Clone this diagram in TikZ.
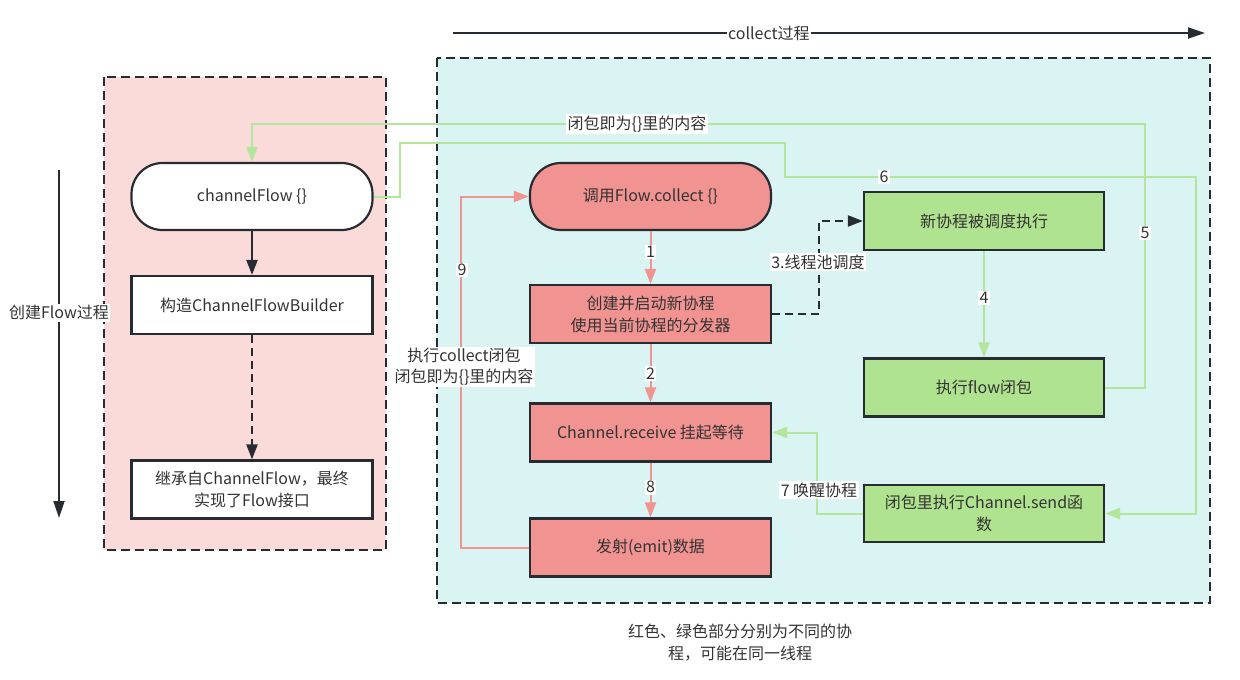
\documentclass[tikz,border=0pt]{standalone}
\usepackage{fontspec}
\setmainfont{Noto Sans CJK SC}
\usetikzlibrary{arrows.meta}
\definecolor{regpink}{HTML}{FADBDA}
\definecolor{regcyan}{HTML}{DAF4F4}
\definecolor{salmon}{HTML}{F19391}
\definecolor{leaf}{HTML}{B0E38F}
\definecolor{leafline}{HTML}{B3E59D}
\definecolor{darkc}{HTML}{262C32}
\definecolor{txt}{HTML}{333333}
\tikzset{
  region/.style={draw=darkc, line width=2pt, dash pattern=on 9pt off 5pt},
  box/.style={draw=darkc, line width=2.2pt, minimum width=241pt, inner sep=2pt, align=center, text=txt, font=\fontsize{16}{22}\selectfont},
  stadium/.style={box, rounded corners=31pt, minimum height=67pt},
  plain/.style={box, fill=white, minimum height=58pt},
  redbox/.style={box, fill=salmon, minimum height=58pt},
  greenbox/.style={box, fill=leaf, minimum height=58pt, minimum width=240pt},
  lbl/.style={fill=white, inner sep=1.5pt, text=txt, align=center, font=\fontsize{16}{21}\selectfont},
  pinkarrow/.style={draw=salmon, line width=2pt, -{Triangle[length=15pt,width=11pt]}},
  greenarrow/.style={draw=leafline, line width=2pt, -{Triangle[length=15pt,width=11pt]}},
  darkarrow/.style={draw=darkc, line width=2.2pt, -{Triangle[length=15pt,width=11pt]}},
  darkdashed/.style={darkarrow, dash pattern=on 8pt off 5pt},
}
\begin{document}
\begin{tikzpicture}[x=1pt,y=-1pt]
\useasboundingbox (0,0) rectangle (1240,680);
\fill[white] (0,0) rectangle (1240,680);
% regions
\path[region, fill=regpink] (104,77) rectangle (386,550);
\path[region, fill=regcyan] (437,58) rectangle (1210,603);
% top and side arrows
\coordinate (ts) at (453,33);
\coordinate (te) at (1205,33);
\draw[darkarrow, line width=1.8pt, -{Triangle[length=17pt,width=11pt]}] (ts) -- node[lbl, pos=0.42]{collect过程} (te);
\coordinate (ls) at (59,170);
\coordinate (le) at (59,518);
\draw[darkarrow, line width=1.8pt, -{Triangle[length=17pt,width=11pt]}] (ls) -- node[lbl, pos=0.41]{创建Flow过程} (le);
% left nodes
\node[stadium, fill=white] (chF) at (252,196.5) {channelFlow \{\}};
\node[plain] (build) at (252,305) {构造ChannelFlowBuilder};
\node[plain] (impl) at (252,489.5) {继承自ChannelFlow，最终\\实现了Flow接口};
% red nodes
\node[stadium, fill=salmon] (collect) at (650.5,196.5) {调用Flow.collect \{\}};
\node[redbox] (create) at (650.5,314) {创建并启动新协程\\使用当前协程的分发器};
\node[redbox] (recv) at (650.5,432.5) {Channel.receive 挂起等待};
\node[redbox] (emit) at (650.5,547.5) {发射(emit)数据};
% green nodes
\node[greenbox] (newc) at (984,221) {新协程被调度执行};
\node[greenbox] (flowc) at (984,387.5) {执行flow闭包};
\node[greenbox, minimum height=57pt] (send) at (984,513.5) {闭包里执行Channel.send函\\数};
% left connectors
\draw[darkarrow] (chF) -- (build);
\draw[darkdashed] (build) -- (impl);
% red connectors
\draw[pinkarrow] (collect) -- node[lbl, pos=0.4]{1} (create);
\draw[pinkarrow] (create) -- node[lbl]{2} (recv);
\draw[pinkarrow] (recv) -- node[lbl, pos=0.45]{8} (emit);
\draw[pinkarrow] (emit.west) -- ++(-68,0) |- (collect.west);
\node[lbl] (l9) at (462,270) {9};
\node[lbl] (l9b) at (464,367) {执行collect闭包\\闭包即为\{\}里的内容};
% 3
\draw[darkdashed] (create.east) -- ++(47,0) |- (newc.west);
\node[lbl] (l3) at (818,262) {3.线程池调度};
% 4
\draw[greenarrow] (newc) -- node[lbl, pos=0.44]{4} (flowc);
% 5
\coordinate (top5) at (1145,124);
\draw[greenarrow] (flowc.east) -| (top5) -| (chF.north);
\node[lbl] (l5a) at (637,124) {闭包即为\{\}里的内容};
\node[lbl] (l5) at (1145,233) {5};
% 6
\coordinate (c6a) at (400,143);
\coordinate (c6b) at (785,177);
\coordinate (c6c) at (1196,177);
\draw[greenarrow] (chF.east) -| (c6a) -| (c6b) -- (c6c) |- (send.east);
\node[lbl] (l6) at (884,177) {6};
% 7
\draw[greenarrow] (send.west) -- ++(-46,0) |- (recv.east);
\node[lbl] (l7) at (819,490) {7 唤醒协程};
% bottom note
\node[text=txt, align=center, font=\fontsize{16}{22}\selectfont] (note) at (740,643) {红色、绿色部分分别为不同的协\\程，可能在同一线程};
\end{tikzpicture}
\end{document}
